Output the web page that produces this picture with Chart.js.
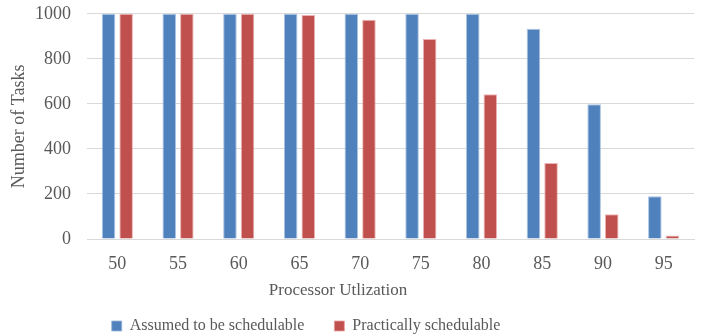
<!DOCTYPE html>
<html>
<head>
<meta charset="utf-8">
<script src="https://cdn.jsdelivr.net/npm/chart.js@4"></script>
<style>
  html, body { margin: 0; padding: 0; background: #fff; }
  #wrap { width: 706px; height: 335px; }
</style>
</head>
<body>
<div id="wrap"><canvas id="myChart"></canvas></div>
<script>
// data
const utilization = ["50", "55", "60", "65", "70", "75", "80", "85", "90", "95"];
const assumed = [1000, 1000, 1000, 1000, 1000, 1000, 1000, 934, 598, 190];
const practical = [1000, 1000, 1000, 995, 974, 888, 643, 338, 110, 16];

const grey = "#595959";
const serif = "'Liberation Serif', 'Times New Roman', serif";

// move the bottom legend and title a bit to the left, like the original
const shiftBottom = {
  id: "shiftBottom",
  afterLayout(chart) {
    chart.legend.left -= 45;
    chart.legend.right -= 45;
    chart.titleBlock.left -= 13;
    chart.titleBlock.right -= 13;
  },
};

const data = {
  labels: utilization,
  datasets: [
    {
      label: "Assumed to be schedulable",
      data: assumed,
      backgroundColor: "#4F81BD",
      borderColor: "rgba(150,180,220,0.8)",
      borderWidth: 1,
      categoryPercentage: 0.58,
      barPercentage: 0.77,
    },
    {
      label: "Practically schedulable",
      data: practical,
      backgroundColor: "#C0504D",
      borderColor: "rgba(230,160,160,0.8)",
      borderWidth: 1,
      categoryPercentage: 0.58,
      barPercentage: 0.77,
    },
  ],
};

const config = {
  type: "bar",
  data,
  plugins: [shiftBottom],
  options: {
    responsive: true,
    maintainAspectRatio: false,
    animation: false,
    layout: { padding: { top: 0, right: 12, left: 8, bottom: -9 } },
    plugins: {
      legend: {
        position: "bottom",
        weight: 1000,
        labels: {
          color: grey,
          font: { family: serif, size: 16 },
          boxWidth: 10,
          boxHeight: 10,
          padding: 10,
          generateLabels(chart) {
            const items = Chart.defaults.plugins.legend.labels.generateLabels(chart);
            // wider gap between the two entries
            items[0].text = items[0].text + "     ";
            return items;
          },
        },
      },
      title: {
        display: true,
        position: "bottom",
        weight: 500,
        text: "Processor Utlization",
        color: grey,
        font: { family: serif, size: 17, weight: "normal" },
        padding: { top: 0, bottom: 7 },
      },
      tooltip: { enabled: false },
    },
    scales: {
      x: {
        grid: { display: false },
        border: { display: true, color: "#d9d9d9" },
        ticks: {
          color: grey,
          font: { family: serif, size: 18 },
          padding: 6,
        },
      },
      y: {
        min: 0,
        max: 1000,
        afterFit(scale) {
          scale.width = 79;
        },
        ticks: {
          stepSize: 200,
          color: grey,
          font: { family: serif, size: 18 },
          padding: 3,
          callback: (v) => String(v),
        },
        grid: {
          color: "#d9d9d9",
          drawTicks: true,
          tickLength: 13,
          tickColor: "rgba(0,0,0,0)",
        },
        border: { display: false },
        title: {
          display: true,
          text: "Number of Tasks",
          color: grey,
          font: { family: serif, size: 18 },
          padding: { top: 0, bottom: 4 },
        },
      },
    },
  },
};

const myChart = new Chart(document.getElementById("myChart"), config);
</script>
</body>
</html>
